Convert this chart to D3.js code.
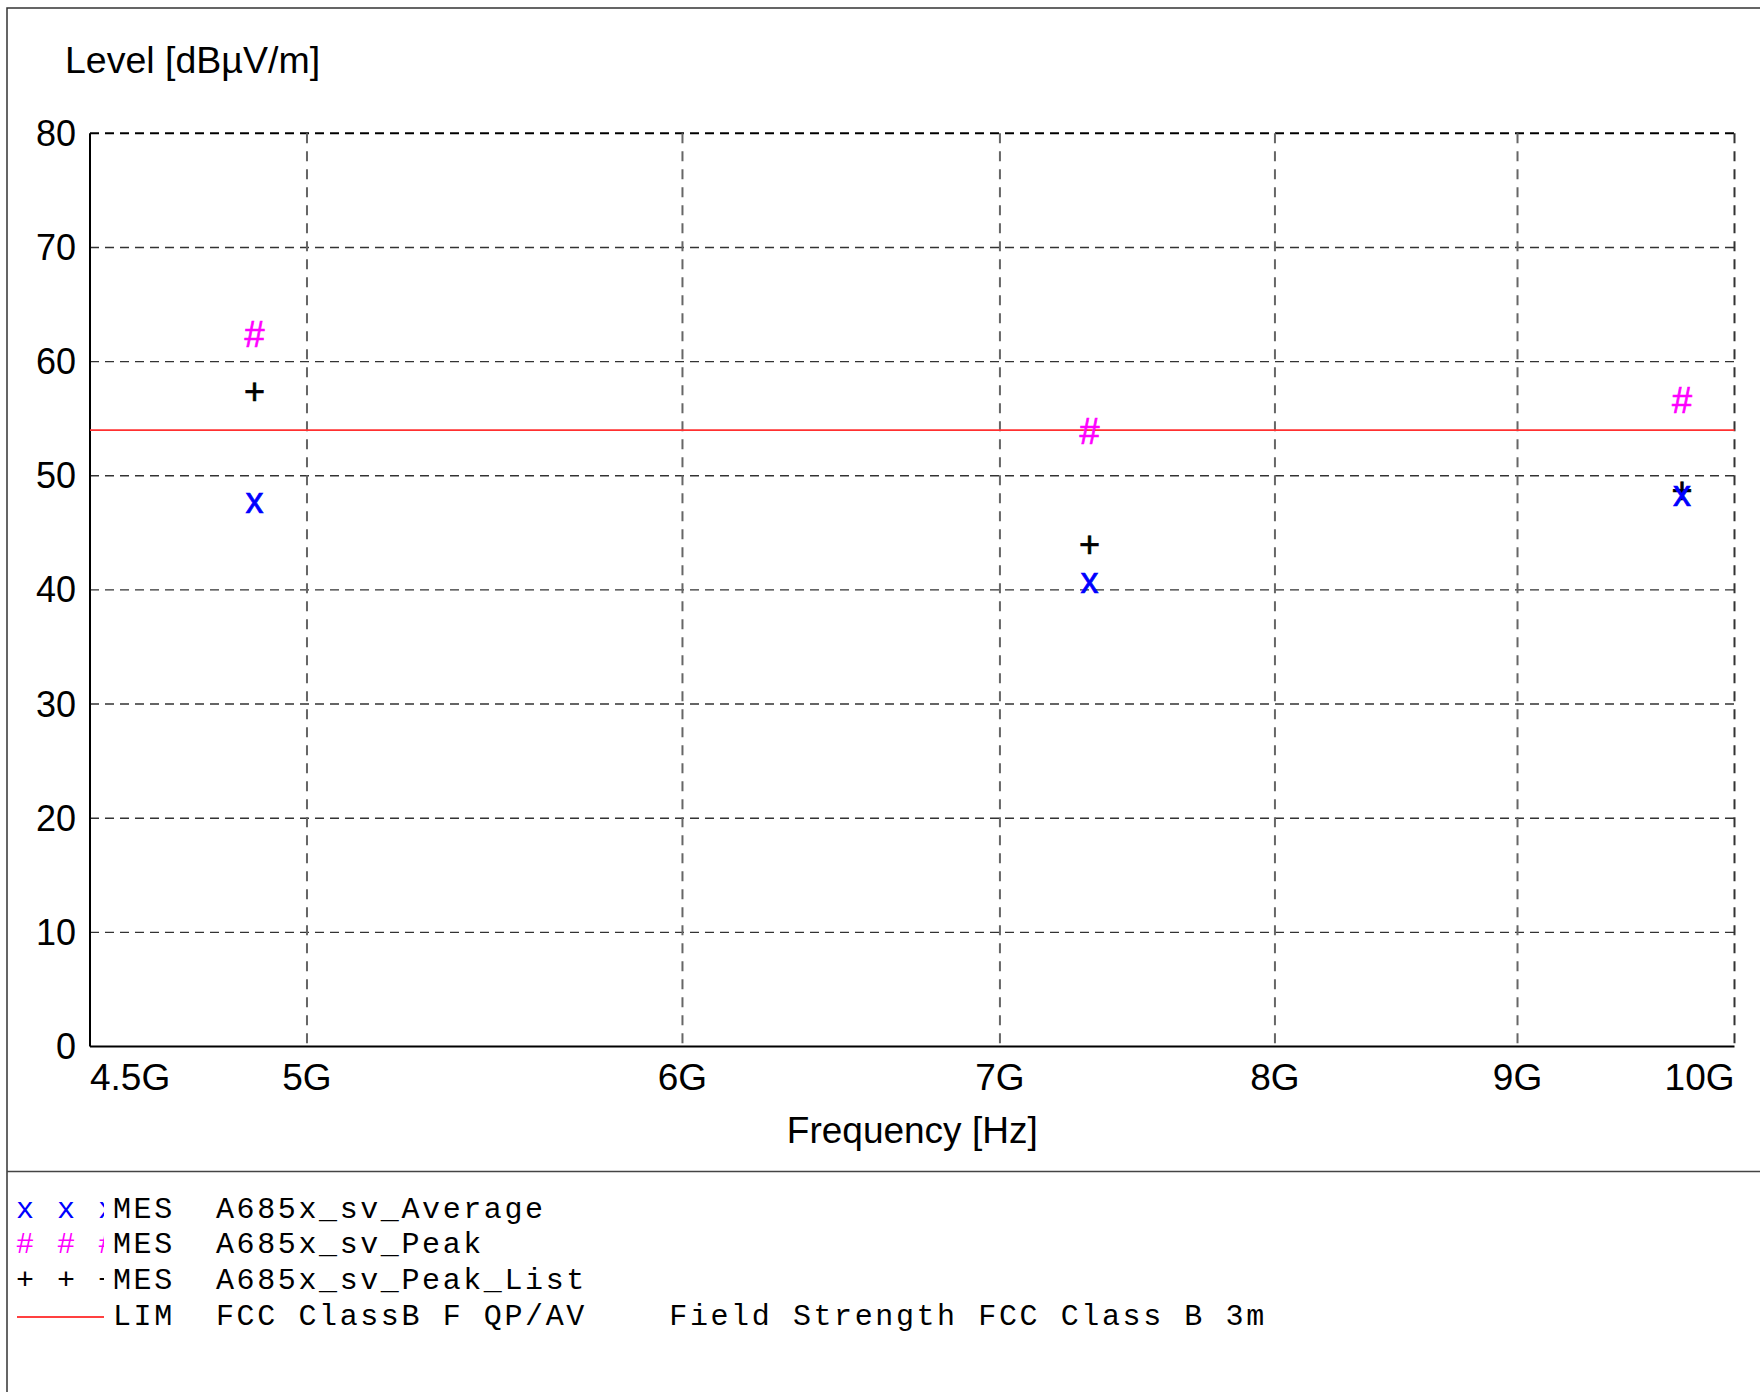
<!DOCTYPE html>
<html>
<head>
<meta charset="utf-8">
<script src="https://cdn.jsdelivr.net/npm/d3@7"></script>
<style>
  html, body { margin: 0; padding: 0; background: #fff; }
  svg { display: block; }
</style>
</head>
<body>
<svg id="chart" width="1760" height="1392"></svg>
<script>
// ---- Data ----
const freqGHz     = [4.874, 7.311, 9.748];
const average     = [47.5, 40.5, 48.1];
const peak        = [62.4, 53.9, 56.6];
const peakList    = [57.4, 44.0, 48.7];
const limitLevel  = 54;
const xTickValues = [4.5, 5, 6, 7, 8, 9, 10];
const xTickLabels = ["4.5G", "5G", "6G", "7G", "8G", "9G", "10G"];
const yTickValues = [0, 10, 20, 30, 40, 50, 60, 70, 80];
const legendRows  = [
  { mark: "x", color: "#0000ff", text: "MES  A685x_sv_Average" },
  { mark: "#", color: "#ff00ff", text: "MES  A685x_sv_Peak" },
  { mark: "+", color: "#000000", text: "MES  A685x_sv_Peak_List" },
  { mark: null, color: "#ff0000", text: "LIM  FCC ClassB F QP/AV    Field Strength FCC Class B 3m" }
];

// ---- Layout ----
const svg = d3.select("#chart");
const L = 90, R = 1734.5, T = 133.3, B = 1046.5;
const x = d3.scaleLog().domain([4.5, 10]).range([L, R]);
const y = d3.scaleLinear().domain([0, 80]).range([B, T]);
const sans = "'Liberation Sans', Arial, sans-serif";
const mono = "'Liberation Mono', 'Courier New', monospace";

// outer frame
svg.append("rect").attr("x", 7).attr("y", 8).attr("width", 1770).attr("height", 1400)
  .attr("fill", "none").attr("stroke", "#333").attr("stroke-width", 1.5);
svg.append("line").attr("x1", 7).attr("x2", 1760).attr("y1", 1171.5).attr("y2", 1171.5)
  .attr("stroke", "#444").attr("stroke-width", 1.5);

// horizontal grid
const gy = svg.append("g");
gy.selectAll("line").data(yTickValues.filter(v => v > 0)).join("line")
  .attr("x1", L).attr("x2", R)
  .attr("y1", d => y(d)).attr("y2", d => y(d))
  .attr("stroke", d => d === 80 ? "#000" : "#333")
  .attr("stroke-width", d => d === 80 ? 2 : 1.4)
  .attr("stroke-dasharray", "9,6");

// vertical grid
const gx = svg.append("g");
gx.selectAll("line").data(xTickValues.filter(v => v > 4.5)).join("line")
  .attr("x1", d => x(d)).attr("x2", d => x(d))
  .attr("y1", T).attr("y2", B)
  .attr("stroke", d => d === 10 ? "#333" : "#666")
  .attr("stroke-width", 2)
  .attr("stroke-dasharray", "10,8");

// axes lines (solid)
svg.append("line").attr("x1", L).attr("x2", L).attr("y1", T).attr("y2", B)
  .attr("stroke", "#000").attr("stroke-width", 2);
svg.append("line").attr("x1", L).attr("x2", R).attr("y1", B).attr("y2", B)
  .attr("stroke", "#000").attr("stroke-width", 2);

// y tick labels
svg.append("g").selectAll("text").data(yTickValues).join("text")
  .attr("x", 76).attr("y", d => y(d) + 12.5)
  .attr("text-anchor", "end")
  .attr("font-family", sans).attr("font-size", 36)
  .text(d => d);

// x tick labels
svg.append("g").selectAll("text").data(xTickValues).join("text")
  .attr("x", (d, i) => x(d))
  .attr("y", 1090)
  .attr("text-anchor", (d, i) => i === 0 ? "start" : (i === xTickValues.length - 1 ? "end" : "middle"))
  .attr("font-family", sans).attr("font-size", 37)
  .text((d, i) => xTickLabels[i]);

// axis titles
svg.append("text").attr("x", 65).attr("y", 73)
  .attr("font-family", sans).attr("font-size", 37.5)
  .text("Level [dBµV/m]");
svg.append("text").attr("x", (L + R) / 2).attr("y", 1142.5)
  .attr("text-anchor", "middle")
  .attr("font-family", sans).attr("font-size", 37)
  .text("Frequency [Hz]");

// limit line
svg.append("line").attr("x1", L).attr("x2", R)
  .attr("y1", y(limitLevel)).attr("y2", y(limitLevel))
  .attr("stroke", "#ff3030").attr("stroke-width", 1.6);

// markers (glyphs centred on value)
function drawMarks(values, glyph, color, baseOffset) {
  svg.append("g").selectAll("text").data(values).join("text")
    .attr("x", (d, i) => x(freqGHz[i]))
    .attr("y", d => y(d) + baseOffset)
    .attr("text-anchor", "middle")
    .attr("font-family", sans).attr("font-size", 36)
    .attr("fill", color)
    .attr("stroke", color).attr("stroke-width", 0.7)
    .text(glyph);
}
drawMarks(peak, "#", "#ff00ff", 12.5);
drawMarks(peakList, "+", "#000000", 12.5);
drawMarks(average, "x", "#0000ff", 9);

// legend
svg.append("clipPath").attr("id", "markClip")
  .append("rect").attr("x", 0).attr("y", 1180).attr("width", 104).attr("height", 160);
const legBase = [1217.5, 1253, 1289, 1325];
const lg = svg.append("g");
legendRows.forEach((r, i) => {
  if (r.mark) {
    lg.append("text").attr("x", 16).attr("y", legBase[i])
      .attr("clip-path", "url(#markClip)")
      .attr("font-family", mono).attr("font-size", 30)
      .attr("letter-spacing", 2.5)
      .attr("fill", r.color)
      .attr("xml:space", "preserve").style("white-space", "pre")
      .text(r.mark + " " + r.mark + " " + r.mark);
  } else {
    lg.append("line").attr("x1", 17).attr("x2", 104)
      .attr("y1", legBase[i] - 8).attr("y2", legBase[i] - 8)
      .attr("stroke", r.color).attr("stroke-width", 1.5);
  }
  lg.append("text").attr("x", 113).attr("y", legBase[i])
    .attr("font-family", mono).attr("font-size", 30)
    .attr("letter-spacing", 2.6)
    .attr("fill", "#000")
    .attr("xml:space", "preserve").style("white-space", "pre")
    .text(r.text);
});
</script>
</body>
</html>
